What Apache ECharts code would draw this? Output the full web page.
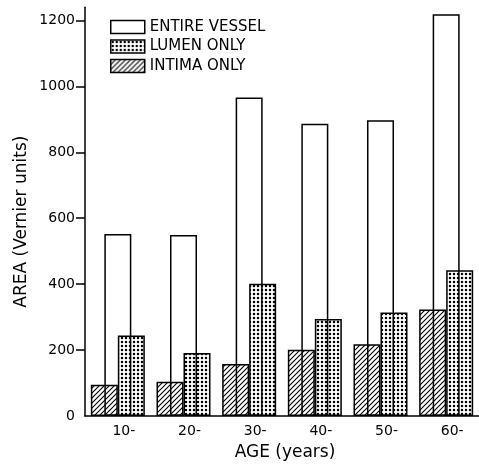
<!DOCTYPE html>
<html><head><meta charset="utf-8">
<script src="https://cdn.jsdelivr.net/npm/echarts@6/dist/echarts.min.js"></script>
<style>html,body{margin:0;padding:0;background:#fff}#c{width:479px;height:466px}</style>
</head><body><div id="c"></div>
<script>
const categories = ['10-', '20-', '30-', '40-', '50-', '60-'];
const entireVessel = [552, 549, 966, 887, 897, 1219];
const lumenOnly = [244, 191, 401, 294, 314, 442];
const intimaOnly = [95, 104, 158, 201, 218, 323];
const yLabelValues = [0, 200, 400, 600, 800, 1000, 1200];
const yTickValues = [200, 400, 600, 800, 1000, 1200];
const seriesNames = ['ENTIRE VESSEL', 'LUMEN ONLY', 'INTIMA ONLY'];

function hatchPattern() {
  const n = 5, c = document.createElement('canvas');
  c.width = n; c.height = n;
  const g = c.getContext('2d');
  g.fillStyle = '#fff'; g.fillRect(0, 0, n, n);
  g.strokeStyle = '#000'; g.lineWidth = 1.1;
  g.beginPath();
  g.moveTo(-1, n + 1); g.lineTo(n + 1, -1);
  g.moveTo(-1, 1); g.lineTo(1, -1);
  g.moveTo(n - 1, n + 1); g.lineTo(n + 1, n - 1);
  g.stroke();
  return { image: c, repeat: 'repeat' };
}
function dotPattern() {
  const n = 4, c = document.createElement('canvas');
  c.width = n; c.height = n;
  const g = c.getContext('2d');
  g.fillStyle = '#fff'; g.fillRect(0, 0, n, n);
  g.fillStyle = '#000';
  g.beginPath(); g.arc(2, 2, 1.25, 0, Math.PI * 2); g.fill();
  return { image: c, repeat: 'repeat' };
}
const hatch = hatchPattern();
const dots = dotPattern();
const font = 'DejaVu Sans';

const chart = echarts.init(document.getElementById('c'), null, { renderer: 'canvas' });
chart.setOption({
  backgroundColor: '#fff',
  animation: false,
  legend: {
    orient: 'vertical', left: 110, top: 19.5, padding: 0, itemWidth: 34, itemHeight: 13, itemGap: 4.5,
    textStyle: { fontFamily: font, fontSize: 15, color: '#000' },
    data: [
      { name: seriesNames[0], icon: 'rect', itemStyle: { color: '#fff', borderColor: '#000', borderWidth: 1.5 } },
      { name: seriesNames[1], icon: 'rect', itemStyle: { color: dots, borderColor: '#000', borderWidth: 1.5 } },
      { name: seriesNames[2], icon: 'rect', itemStyle: { color: hatch, borderColor: '#000', borderWidth: 1.5 } }
    ]
  },
  grid: { left: 85, right: -5, top: 7.3, bottom: 41.7, containLabel: false },
  xAxis: [
    {
      type: 'category', data: categories,
      axisLine: { lineStyle: { color: '#000', width: 1.5 } },
      axisTick: { show: false },
      axisLabel: { fontFamily: font, fontSize: 14, color: '#000', margin: 8, padding: [0, 0, 0, 12] },
      name: 'AGE (years)', nameLocation: 'middle', nameGap: 28,
      nameTextStyle: { fontFamily: font, fontSize: 17, color: '#000', padding: [0, 0, 0, 6] }
    },
    { type: 'category', data: categories, show: false }
  ],
  yAxis: {
    type: 'value', min: 0, max: 1240,
    splitLine: { show: false },
    axisLine: { show: true, lineStyle: { color: '#000', width: 1.5 } },
    axisTick: { show: true, length: 9, lineStyle: { color: '#000', width: 1.5 }, customValues: yTickValues },
    axisLabel: { fontFamily: font, fontSize: 14, color: '#000', margin: 10, customValues: yLabelValues,
      formatter: v => String(v) },
    name: 'AREA (Vernier units)', nameLocation: 'middle', nameGap: 55, nameMoveOverlap: false,
    nameTextStyle: { fontFamily: font, fontSize: 17, color: '#000', padding: [0, 20, 0, 0] }
  },
  series: [
    {
      name: seriesNames[2], type: 'bar', xAxisIndex: 0, data: intimaOnly, barWidth: 27, barGap: '0%', z: 2,
      itemStyle: { color: hatch, borderColor: '#000', borderWidth: 1.5 }
    },
    {
      name: seriesNames[1], type: 'bar', xAxisIndex: 0, data: lumenOnly, barWidth: 27, barGap: '0%', z: 2,
      itemStyle: { color: dots, borderColor: '#000', borderWidth: 1.5 }
    },
    {
      name: seriesNames[0], type: 'bar', xAxisIndex: 1, data: entireVessel, barWidth: 27, z: 3, clip: false,
      itemStyle: { color: 'rgba(255,255,255,0)', borderColor: '#000', borderWidth: 1.5 }
    }
  ]
});
</script></body></html>
